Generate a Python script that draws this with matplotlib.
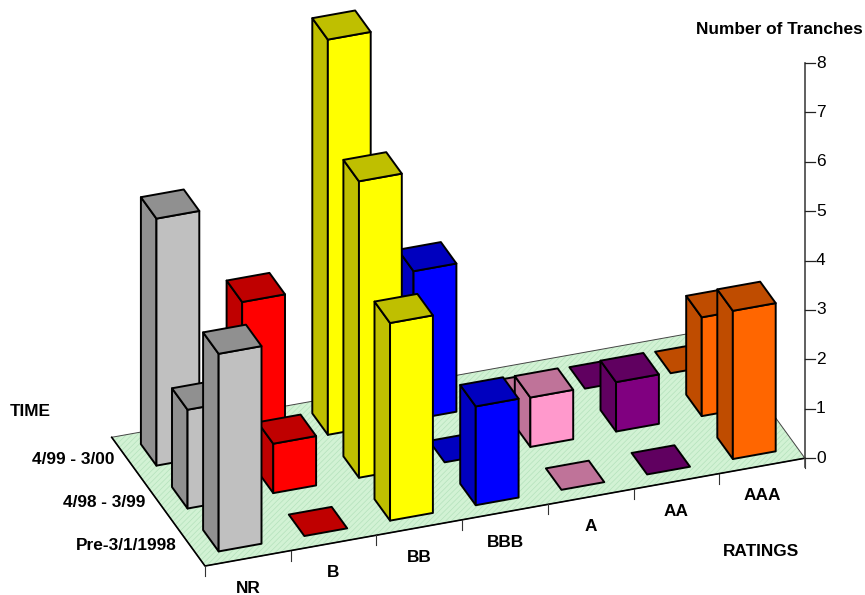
import matplotlib
matplotlib.use('Agg')
import matplotlib.pyplot as plt
from matplotlib.patches import Polygon

plt.rcParams['font.family'] = ['Liberation Sans', 'DejaVu Sans']
plt.rcParams['hatch.linewidth'] = 0.5

ratings = ['NR', 'B', 'BB', 'BBB', 'A', 'AA', 'AAA']
periods = ['Pre-3/1/1998', '4/98 - 3/99', '4/99 - 3/00']
y_ticks = [0, 1, 2, 3, 4, 5, 6, 7, 8]

# tranche counts per rating, one list per period
pre_1998 = [4, 0, 4, 2, 0, 0, 3]
apr98_mar99 = [2, 1, 6, 0, 1, 1, 2]
apr99_mar00 = [5, 3, 8, 3, 0, 0, 0]
counts = [pre_1998, apr98_mar99, apr99_mar00]

front_colors = ['#C0C0C0', '#FF0000', '#FFFF00', '#0000FF', '#FF99CC', '#800080', '#FF6600']
side_colors = ['#909090', '#BF0000', '#BFBF00', '#0000BF', '#BF7399', '#600060', '#BF4C00']

# pseudo 3d projection, picture pixels
origin = (205.0, 566.0)
rating_step = (85.7, -15.4)
period_step = (-31.1, -42.9)
unit_height = 49.4
bar_size = 0.5


def project(r, p, v=0):
    x = origin[0] + r * rating_step[0] + p * period_step[0]
    y = origin[1] + r * rating_step[1] + p * period_step[1] - v * unit_height
    return (x, y)


fig = plt.figure(figsize=(8.65, 5.95), dpi=100)
ax = fig.add_axes([0, 0, 1, 1])
ax.set_xlim(0, 865)
ax.set_ylim(595, 0)
ax.axis('off')

n_r = len(ratings)
n_p = len(periods)

# floor
floor = [project(0, 0), project(n_r, 0), project(n_r, n_p), project(0, n_p)]
ax.add_patch(Polygon(floor, closed=True, facecolor='#D2F2D4', edgecolor='#B4E2BC',
                     hatch='//////', linewidth=0, zorder=1))
ax.add_patch(Polygon(floor, closed=True, fill=False, edgecolor='#444444', linewidth=0.7, zorder=1))
ax.plot(*zip(project(n_r, 0), project(0, 0), project(0, n_p)), color='black', lw=1.2, zorder=2)

# ticks under the front edge of the floor
for r in range(n_r + 1):
    x, y = project(r, 0)
    ax.plot([x, x], [y, y + 10], color='#333333', lw=0.8, zorder=2)

# value axis
x0, y0 = project(n_r, 0)
ax.plot([x0, x0], [y0 - y_ticks[-1] * unit_height, y0 + 9], color='#444444', lw=1.2, zorder=2)
for t in y_ticks:
    y = y0 - t * unit_height
    ax.plot([x0, x0 + 10], [y, y], color='#222222', lw=0.9, zorder=2)
    ax.text(x0 + 11, y, str(t), fontsize=12.5, ha='left', va='center', color='black')

# bars, back row first
z = 3
for p in range(n_p - 1, -1, -1):
    for r in range(n_r):
        v = counts[p][r]
        a = (1 - bar_size) / 2
        r0, r1 = r + a, r + a + bar_size
        p0, p1 = p + a, p + a + bar_size
        edge = dict(edgecolor='black', linewidth=1.4, joinstyle='round', zorder=z)
        top = [project(r0, p0, v), project(r1, p0, v), project(r1, p1, v), project(r0, p1, v)]
        if v > 0:
            left = [project(r0, p0), project(r0, p0, v), project(r0, p1, v), project(r0, p1)]
            front = [project(r0, p0), project(r1, p0), project(r1, p0, v), project(r0, p0, v)]
            ax.add_patch(Polygon(left, closed=True, facecolor=side_colors[r], **edge))
            ax.add_patch(Polygon(front, closed=True, facecolor=front_colors[r], **edge))
        ax.add_patch(Polygon(top, closed=True, facecolor=side_colors[r], **edge))
        z += 1

# labels
label_size = 12.4
for r, name in enumerate(ratings):
    x, y = project(r + 0.5, 0)
    ax.text(x, y + 30, name, fontsize=label_size, fontweight='bold', ha='center', va='center')
for p, name in enumerate(periods):
    x, y = project(0, p + 0.5)
    ax.text(x - 13, y + 1, name, fontsize=label_size, fontweight='bold', ha='right', va='center')

ax.text(10, 412, 'TIME', fontsize=label_size, fontweight='bold', ha='left', va='center')
ax.text(761, 552, 'RATINGS', fontsize=label_size, fontweight='bold', ha='center', va='center')
ax.text(863, 29.5, 'Number of Tranches', fontsize=label_size, fontweight='bold', ha='right', va='center')

fig.savefig('out.png', dpi=100)
